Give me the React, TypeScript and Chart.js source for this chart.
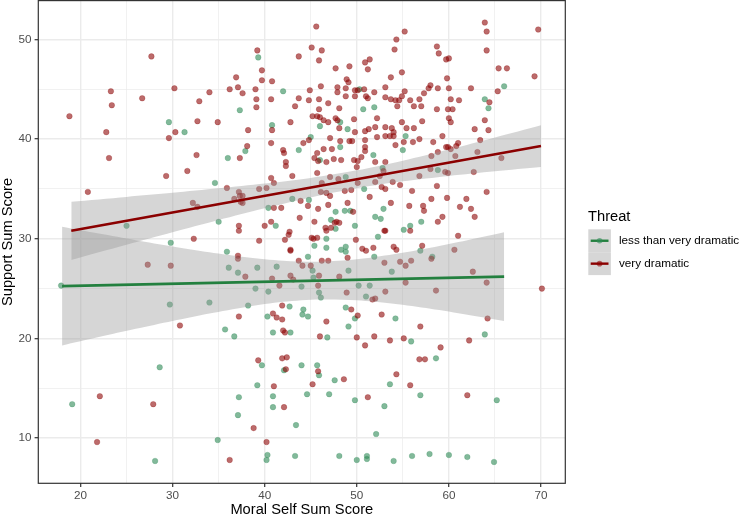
import React, { useEffect, useRef } from "react";
import { Chart, registerables } from "chart.js";
Chart.register(...registerables);

// ---------- data ----------
const xTickValues = [20, 25, 30, 35, 40, 45, 50, 55, 60, 65, 70];
const yTickValues = [10, 15, 20, 25, 30, 35, 40, 45, 50];
const xRange = [15.42, 72.64];
const yRange = [5.46, 53.9];

const seriesNames = ["less than very dramatic", "very dramatic"];
const legendTitle = "Threat";
const xTitle = "Moral Self Sum Score";
const yTitle = "Support Sum Score";

// very dramatic (dark red) points [x, y]
const veryDramaticPoints: [number, number][] = [
  [27.7,48.3],[18.8,42.3],[23.3,44.8],[23.4,43.4],[26.7,44.1],[22.8,40.7],[23.1,38.1],[30.2,45.1],
  [32.9,43.8],[34.0,44.7],[32.7,41.8],[30.3,40.7],[29.6,40.1],[34.9,41.7],[32.6,38.4],[31.6,36.8],
  [29.3,36.3],[36.9,46.2],[36.2,45.0],[37.1,45.2],[37.6,44.6],[38.2,40.9],[38.1,39.3],[37.3,38.1],
  [45.6,51.3],[39.2,48.9],[45.1,49.2],[46.2,48.9],[43.7,48.3],[45.9,47.9],[55.2,50.8],[54.3,50.0],
  [54.1,49.0],[39.7,46.9],[39.7,45.9],[40.8,45.8],[39.0,45.0],[39.1,44.0],[39.1,43.2],[40.7,44.0],
  [43.7,44.1],[43.3,43.3],[44.9,44.9],[44.8,43.9],[46.1,45.3],[45.9,44.0],[46.9,43.6],[47.7,47.1],
  [47.9,45.2],[47.9,44.7],[49.2,47.3],[48.9,46.0],[49.1,45.7],[48.8,45.1],[48.8,44.3],[49.8,44.9],
  [50.1,44.9],[49.8,44.3],[50.8,45.0],[51.0,44.3],[51.2,44.1],[50.9,47.7],[51.4,48.0],[51.2,47.0],
  [51.9,44.7],[53.1,45.2],[53.7,46.2],[54.9,46.7],[55.2,44.8],[53.1,44.2],[53.7,44.0],[54.2,43.9],
  [54.6,43.9],[54.9,44.3],[55.8,43.9],[56.8,44.0],[57.3,44.6],[57.8,45.1],[58.0,45.4],[58.7,43.0],
  [58.7,49.3],[58.9,48.6],[54.4,43.3],[56.2,43.3],[57.0,43.3],[45.9,43.0],[48.1,43.1],[45.2,42.3],
  [45.7,42.3],[46.0,42.2],[46.4,41.9],[46.9,41.7],[47.7,42.1],[47.9,41.9],[48.1,41.1],[49.7,42.0],
  [42.8,41.7],[40.8,40.9],[40.7,39.6],[44.8,39.9],[47.1,40.1],[45.7,38.6],[46.4,39.0],[47.3,39.0],
  [48.2,39.8],[49.2,39.8],[49.5,39.8],[49.8,40.7],[50.9,40.8],[51.3,41.0],[52.0,41.2],[52.2,42.1],
  [53.1,41.2],[53.8,41.1],[54.0,40.7],[54.9,41.7],[55.4,41.1],[56.2,41.1],[57.1,41.8],[52.2,40.2],
  [53.1,40.3],[53.6,40.3],[54.0,40.3],[54.2,39.4],[55.1,39.7],[56.1,39.7],[56.8,40.0],[58.3,39.7],
  [50.9,39.9],[50.9,39.2],[50.9,38.8],[50.5,38.2],[50.1,37.8],[49.7,37.9],[50.0,37.2],[52.0,37.7],
  [53.1,37.7],[44.2,39.6],[42.0,38.9],[42.1,38.6],[42.3,37.7],[42.3,37.3],[43.0,36.3],[40.7,36.1],
  [45.4,38.1],[45.8,37.8],[46.7,37.7],[47.5,38.0],[48.3,37.9],[45.7,36.6],[47.1,36.2],
  [63.9,51.7],[64.1,50.8],[69.7,51.0],[64.1,48.9],[59.7,48.0],[60.0,48.1],[65.4,47.1],[66.3,47.1],
  [69.3,46.3],[59.8,46.1],[58.8,45.1],[60.0,45.1],[62.4,45.1],[65.3,44.8],[60.2,44.0],[61.1,43.9],
  [64.4,43.7],[59.9,43.0],[60.4,43.0],[60.0,42.1],[60.2,41.7],[63.9,41.9],[62.8,41.0],[64.3,40.9],
  [59.3,40.3],[63.4,39.9],[59.7,39.2],[59.9,39.2],[60.2,39.0],[61.0,39.6],[60.8,39.3],[58.8,38.7],
  [58.1,38.3],[60.7,38.3],[63.1,38.7],[65.7,38.1],[59.6,36.7],[59.9,36.6],[62.7,36.7],[58.0,37.0],
  [20.8,34.7],[32.2,33.6],[32.7,33.2],[35.9,35.1],[37.2,34.7],[36.7,34.0],[37.6,34.3],[37.4,33.7],
  [37.2,31.3],[37.2,30.8],[32.3,30.0],[27.3,27.4],[29.8,27.3],[37.1,28.3],[37.1,28.0],[37.9,26.2],
  [37.2,22.2],[30.8,21.3],
  [41.0,35.6],[48.0,36.0],[46.2,35.6],[50.1,35.6],[52.0,35.7],[52.5,36.3],[52.9,36.8],[52.7,35.2],
  [53.1,35.0],[53.9,35.7],[54.7,35.4],[56.8,36.3],[58.7,35.3],[56.0,34.8],[58.1,34.0],[57.2,33.3],
  [57.3,32.8],[58.8,31.7],[55.7,33.3],[53.7,33.6],[51.4,34.2],[49.0,33.6],[49.6,32.7],[48.7,34.8],
  [49.4,34.9],[47.1,34.3],[46.7,34.6],[46.9,33.4],[46.1,34.7],[44.7,33.3],[43.9,33.8],[45.4,31.7],
  [45.8,33.0],[43.8,32.1],[41.8,33.1],[41.0,33.1],[40.7,31.7],[40.0,31.3],[40.2,35.1],[39.4,35.0],
  [37.3,34.3],[37.6,33.6],[42.7,30.7],[42.2,29.9],[42.6,30.4],[45.3,30.0],[45.1,30.1],[45.7,30.1],
  [46.6,31.1],[46.7,30.8],[47.6,31.6],[47.8,31.7],[48.1,31.6],[47.2,31.1],[42.8,28.9],[42.8,28.8],
  [39.4,29.8],[49.9,29.9],[50.6,29.0],[51.0,28.8],[51.8,29.1],[53.0,30.8],[53.1,30.8],[54.0,29.2],
  [54.3,28.9],[55.8,30.8],[57.1,29.3],[43.7,27.8],[44.1,27.3],[45.0,27.3],[46.2,27.8],[46.9,27.8],
  [49.0,28.1],[53.0,27.6],[54.7,27.7],[55.3,27.3],[55.9,27.8],[58.1,28.0],[40.8,26.0],[42.8,26.3],
  [43.1,25.9],[45.9,26.3],[48.1,26.2],[55.3,25.6],[41.6,25.3],[45.8,25.3],[48.9,24.6],[52.0,24.0],
  [51.7,23.9],[53.1,24.7],[41.9,23.3],[40.9,22.5],[41.3,22.1],[41.9,21.9],[46.7,21.7],[49.4,22.9],
  [50.1,22.3],[52.7,22.4],[56.9,21.2],[58.6,24.8],
  [59.8,34.1],[61.9,34.0],[61.2,33.2],[62.4,33.0],[62.8,32.2],[59.3,32.2],[64.1,34.7],[61.0,30.3],
  [60.6,28.9],[62.6,26.7],[64.1,25.6],[70.1,25.0],[64.2,22.0],
  [22.1,14.2],[27.9,13.4],[21.8,9.6],[36.2,7.8],
  [42.0,20.8],[42.2,20.6],[46.0,20.2],[50.0,20.1],[50.9,19.3],[51.9,20.2],[53.6,19.8],[55.1,20.0],
  [39.3,17.8],[41.9,18.0],[42.4,18.1],[42.3,16.9],[45.8,16.7],[45.2,15.4],[48.6,15.9],[54.3,16.4],
  [55.8,15.3],[56.8,17.9],[57.4,17.9],[41.0,15.2],[51.2,14.1],[42.1,13.1],[38.8,11.0],[40.2,9.6],
  [62.2,19.8],[59.1,19.1],[62.0,14.3],
];

// less than very dramatic (green) points [x, y]
const lessDramaticPoints: [number, number][] = [
  [29.6,41.7],[31.3,40.7],[37.3,42.9],[36.0,38.1],[37.9,38.8],[39.3,48.2],[42.0,44.8],[50.3,45.0],
  [50.7,43.0],[51.9,43.2],[46.0,41.3],[40.8,41.4],[45.0,40.2],[48.2,41.7],[49.0,41.0],[48.2,39.2],
  [43.7,38.9],[46.0,37.9],[51.8,38.4],[55.0,38.9],[55.3,40.3],[52.8,37.1],[48.8,36.2],[58.8,36.9],
  [66.0,45.3],[63.9,44.0],[64.3,43.1],[34.6,35.6],[35.0,31.7],[25.0,31.3],[29.8,29.6],[35.9,28.7],
  [36.1,27.1],[37.1,26.6],[17.9,25.3],[29.7,23.4],[34.0,23.6],[35.7,20.9],[43.0,34.0],[44.8,33.9],
  [40.4,33.1],[41.2,31.3],[47.2,31.9],[47.7,32.7],[47.7,31.0],[48.7,32.8],[50.8,35.0],[49.3,32.8],
  [49.8,31.3],[52.0,32.2],[52.9,33.0],[52.6,32.0],[52.3,30.2],[55.1,30.9],[55.8,31.3],[57.0,31.7],
  [46.7,30.0],[45.4,29.3],[46.7,29.1],[48.3,28.9],[48.8,29.2],[48.8,28.7],[44.7,28.2],[51.9,28.2],
  [56.9,28.8],[58.2,28.2],[39.2,27.1],[41.3,27.2],[45.2,26.8],[49.1,26.8],[53.8,26.7],[39.0,25.0],
  [40.4,24.7],[44.0,25.2],[45.3,26.1],[45.9,24.6],[50.2,25.3],[51.4,25.3],[51.0,24.2],[46.1,24.1],
  [42.7,23.2],[44.2,22.9],[44.1,22.4],[44.7,22.2],[40.3,22.2],[48.8,23.1],[49.8,22.0],[54.2,22.0],
  [49.1,21.2],[38.2,23.3],[36.7,20.2],[28.6,17.1],[19.1,13.4],[37.2,14.1],[37.1,12.3],[34.9,9.8],
  [28.1,7.7],[40.9,20.6],[42.8,20.6],[46.8,20.1],[55.9,19.7],[39.7,17.3],[42.1,16.8],[44.0,17.3],
  [45.7,17.3],[45.9,16.3],[47.6,15.8],[53.6,15.4],[58.6,18.0],[39.2,15.3],[44.6,14.4],[47.0,14.4],
  [40.9,14.2],[40.9,13.1],[49.8,13.8],[53.0,13.2],[56.9,14.3],[43.4,11.3],[52.1,10.4],[40.3,8.3],
  [40.2,7.8],[43.3,8.2],[48.1,8.2],[50.0,7.8],[51.1,8.2],[51.1,7.9],[54.0,7.7],[56.0,8.2],
  [57.9,8.4],[63.9,20.4],[65.2,13.8],[60.0,8.3],[62.0,8.1],[64.9,7.6],
];

// fitted lines (endpoints) and confidence bands
const redFitX = [19, 70];
const redFitY = [30.8, 39.3];
const redBandX = [19, 25, 30, 35, 40, 45, 50, 55, 60, 65, 70];
const redBandUpper = [33.72, 34.2, 34.61, 35.06, 35.54, 36.11, 36.87, 37.84, 38.96, 40.17, 41.4];
const redBandLower = [27.88, 29.4, 30.65, 31.88, 33.06, 34.15, 35.07, 35.76, 36.3, 36.77, 37.2];

const greenFitX = [18, 66];
const greenFitY = [25.25, 26.2];
const greenBandX = [18, 22, 26, 30, 34, 38, 42, 46, 50, 54, 58, 62, 66];
const greenBandUpper = [31.2, 30.52, 29.86, 29.23, 28.64, 28.14, 27.79, 27.7, 27.94, 28.45, 29.11, 29.86, 30.65];
const greenBandLower = [19.3, 20.14, 20.96, 21.75, 22.5, 23.16, 23.67, 23.9, 23.82, 23.47, 22.97, 22.38, 21.75];

// ---------- styles ----------
const FONT = '"Liberation Sans", Arial, Helvetica, sans-serif';
const RED_LINE = "#8B0000";
const GREEN_LINE = "#23803F";
const RED_PT = "rgba(139,0,0,0.58)";
const RED_PT_BORDER = "rgba(139,0,0,0.3)";
const GREEN_PT = "rgba(46,139,87,0.6)";
const GREEN_PT_BORDER = "rgba(46,139,87,0.3)";
const BAND = "rgba(153,153,153,0.4)";

const xy = (xs: number[], ys: number[]) => xs.map((x, i) => ({ x, y: ys[i] }));

const decorPlugin = {
  id: "decor",
  afterDraw(chart: any) {
    const { ctx, chartArea: a } = chart;
    ctx.save();
    ctx.strokeStyle = "#333333";
    ctx.lineWidth = 1.2;
    ctx.strokeRect(a.left, a.top, a.right - a.left, a.bottom - a.top);

    ctx.fillStyle = "#000000";
    ctx.font = `14.7px ${FONT}`;
    ctx.textAlign = "center";
    ctx.textBaseline = "alphabetic";
    ctx.fillText(xTitle, (a.left + a.right) / 2, 514);
    ctx.save();
    ctx.translate(12, (a.top + a.bottom) / 2);
    ctx.rotate(-Math.PI / 2);
    ctx.fillText(yTitle, 0, 0);
    ctx.restore();

    // legend
    ctx.textAlign = "left";
    ctx.fillText(legendTitle, 588, 221);
    const keyX = 588.3, keyW = 22.6, keyH = 22.9, keyTop = 229.3;
    const lineCols = [GREEN_LINE, RED_LINE];
    const ptCols = [GREEN_PT, RED_PT];
    seriesNames.forEach((name, i) => {
      const top = keyTop + i * keyH;
      const cy = top + keyH / 2;
      ctx.fillStyle = "#ffffff";
      ctx.fillRect(keyX, top, keyW, keyH);
      ctx.fillStyle = BAND;
      ctx.fillRect(keyX, top, keyW, keyH);
      ctx.strokeStyle = lineCols[i];
      ctx.lineWidth = 2.4;
      ctx.beginPath();
      ctx.moveTo(keyX + 2.4, cy);
      ctx.lineTo(keyX + keyW - 2.4, cy);
      ctx.stroke();
      ctx.fillStyle = ptCols[i];
      ctx.beginPath();
      ctx.arc(keyX + keyW / 2, cy, 2.8, 0, Math.PI * 2);
      ctx.fill();
      ctx.fillStyle = "#000000";
      ctx.font = `11.7px ${FONT}`;
      ctx.textBaseline = "middle";
      ctx.fillText(name, 619, cy + 0.5);
      ctx.textBaseline = "alphabetic";
      ctx.font = `14.7px ${FONT}`;
    });
    ctx.restore();
  },
};

const isMajor = (v: number) => Math.abs(v % 10) < 1e-6;

export default function App() {
  const ref = useRef<HTMLCanvasElement>(null);
  useEffect(() => {
    document.body.style.margin = "0";
    const chart = new Chart(ref.current as HTMLCanvasElement, {
      type: "scatter",
      data: {
        datasets: [
          { type: "line", data: xy(greenFitX, greenFitY), borderColor: GREEN_LINE, borderWidth: 2.6, pointRadius: 0, fill: false, order: 0 } as any,
          { type: "line", data: xy(redFitX, redFitY), borderColor: RED_LINE, borderWidth: 2.6, pointRadius: 0, fill: false, order: 0 } as any,
          { type: "line", data: xy(greenBandX, greenBandUpper), borderWidth: 0, borderColor: "rgba(0,0,0,0)", pointRadius: 0, fill: "+1", backgroundColor: BAND, tension: 0.3, order: 1 } as any,
          { type: "line", data: xy(greenBandX, greenBandLower), borderWidth: 0, borderColor: "rgba(0,0,0,0)", pointRadius: 0, fill: false, tension: 0.3, order: 1 } as any,
          { type: "line", data: xy(redBandX, redBandUpper), borderWidth: 0, borderColor: "rgba(0,0,0,0)", pointRadius: 0, fill: "+1", backgroundColor: BAND, tension: 0.3, order: 1 } as any,
          { type: "line", data: xy(redBandX, redBandLower), borderWidth: 0, borderColor: "rgba(0,0,0,0)", pointRadius: 0, fill: false, tension: 0.3, order: 1 } as any,
          {
            type: "scatter",
            data: veryDramaticPoints.map(([x, y]) => ({ x, y })),
            pointRadius: 2.8,
            pointBorderWidth: 0.8,
            pointBackgroundColor: RED_PT,
            pointBorderColor: RED_PT_BORDER,
            order: 2,
          } as any,
          {
            type: "scatter",
            data: lessDramaticPoints.map(([x, y]) => ({ x, y })),
            pointRadius: 2.8,
            pointBorderWidth: 0.8,
            pointBackgroundColor: GREEN_PT,
            pointBorderColor: GREEN_PT_BORDER,
            order: 2,
          } as any,
        ],
      },
      options: {
        responsive: false,
        animation: false,
        devicePixelRatio: 1,
        events: [],
        layout: { autoPadding: false, padding: { left: 0, right: 174.7, top: 0.6, bottom: 0 } },
        plugins: { legend: { display: false }, tooltip: { enabled: false } },
        scales: {
          x: {
            type: "linear",
            min: xRange[0],
            max: xRange[1],
            afterBuildTicks: (s: any) => { s.ticks = xTickValues.map((v) => ({ value: v })); },
            afterFit: (s: any) => { s.height = 32.7; s.paddingLeft = 0; s.paddingRight = 0; },
            border: { display: false },
            grid: {
              color: "#EBEBEB",
              lineWidth: (c: any) => (c.tick && isMajor(c.tick.value) ? 1.4 : 0.7),
              tickColor: (c: any) => (c.tick && isMajor(c.tick.value) ? "#333333" : "rgba(0,0,0,0)"),
              tickLength: 3.7,
              tickWidth: 1.2,
            } as any,
            ticks: {
              autoSkip: false,
              maxRotation: 0,
              padding: 2,
              color: "#4D4D4D",
              font: { family: FONT, size: 11.7 },
              callback: (v: any) => (isMajor(Number(v)) ? String(v) : ""),
            },
          },
          y: {
            type: "linear",
            min: yRange[0],
            max: yRange[1],
            afterBuildTicks: (s: any) => { s.ticks = yTickValues.map((v) => ({ value: v })); },
            afterFit: (s: any) => { s.width = 38.3; s.paddingTop = 0; s.paddingBottom = 0; },
            border: { display: false },
            grid: {
              color: "#EBEBEB",
              lineWidth: (c: any) => (c.tick && isMajor(c.tick.value) ? 1.4 : 0.7),
              tickColor: (c: any) => (c.tick && isMajor(c.tick.value) ? "#333333" : "rgba(0,0,0,0)"),
              tickLength: 3.7,
              tickWidth: 1.2,
            } as any,
            ticks: {
              autoSkip: false,
              padding: 3,
              color: "#4D4D4D",
              font: { family: FONT, size: 11.7 },
              callback: (v: any) => (isMajor(Number(v)) ? String(v) : ""),
            },
          },
        },
      },
      plugins: [decorPlugin],
    });
    return () => chart.destroy();
  }, []);
  return (
    <div style={{ width: 740, height: 516 }}>
      <canvas ref={ref} width={740} height={516} style={{ display: "block", width: 740, height: 516 }} />
    </div>
  );
}
